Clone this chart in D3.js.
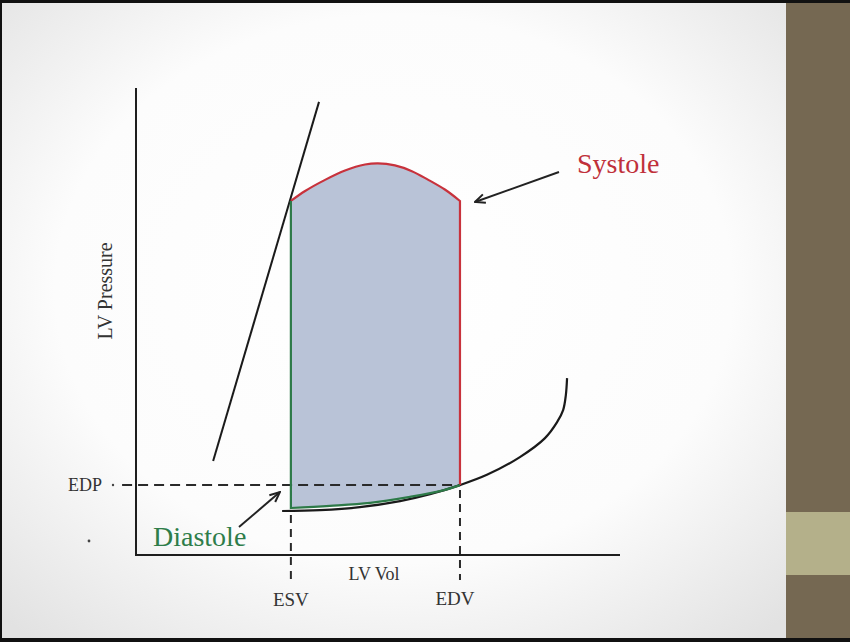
<!DOCTYPE html>
<html><head><meta charset="utf-8">
<script src="https://cdn.jsdelivr.net/npm/d3@7"></script>
<style>html,body{margin:0;padding:0;background:#000;overflow:hidden}</style>
</head><body>
<svg id="c" width="850" height="642"></svg>
<script>
// ---- data (volume in arbitrary mL-like units, pressure in mmHg-like units) ----
const ESV = 51.2, EDV = 107.1, EDP = 23.2;
const systoleVol   = [51.2, 55.9, 62.5, 69.1, 75.7, 80.0, 85.6, 91.2, 96.5, 102.1, 107.1];
const systolePres  = [117.5, 120.8, 124.5, 127.6, 129.6, 130.0, 129.3, 127.4, 124.6, 121.3, 117.5];
const diastoleVol  = [51.2, 64.1, 77.4, 90.6, 100.5, 107.1];
const diastolePres = [15.6, 16.3, 17.3, 19.3, 21.2, 23.2];
const edpvrVol     = [48.3, 60.8, 74.0, 87.3, 97.2, 107.1, 116.0, 126.9, 135.2, 139.2, 141.2, 142.1, 142.5];
const edpvrPres    = [14.6, 14.9, 15.9, 17.9, 20.2, 23.2, 26.6, 32.5, 38.8, 44.1, 48.1, 53.1, 58.7];
const espvrVol     = [25.5, 60.5];
const espvrPres    = [31.2, 150.4];
const xTickLabels  = ["ESV", "EDV"];
const yTickLabels  = ["EDP"];

const svg = d3.select("#c");
const W = 850, H = 642;

// background frame
const defs = svg.append("defs");
const rg = defs.append("radialGradient").attr("id","vig")
  .attr("cx","50%").attr("cy","45%").attr("r","72%");
rg.append("stop").attr("offset","0%").attr("stop-color","#ffffff");
rg.append("stop").attr("offset","60%").attr("stop-color","#fcfcfc");
rg.append("stop").attr("offset","100%").attr("stop-color","#e2e2e2");
svg.append("rect").attr("x",0).attr("y",0).attr("width",W).attr("height",H).attr("fill","#111");
svg.append("rect").attr("x",2).attr("y",3).attr("width",784).attr("height",635).attr("fill","url(#vig)");
svg.append("rect").attr("x",786).attr("y",3).attr("width",64).attr("height",635).attr("fill","#756852");
svg.append("rect").attr("x",786).attr("y",512).attr("width",64).attr("height",63).attr("fill","#b4b08a");

// arrow marker
defs.append("marker").attr("id","arr").attr("viewBox","0 0 12 12")
  .attr("refX",11).attr("refY",6).attr("markerWidth",12).attr("markerHeight",12)
  .attr("markerUnits","userSpaceOnUse").attr("orient","auto")
  .append("path").attr("d","M1,1.5 L11,6 L1,10.5").attr("fill","none")
  .attr("stroke","#222").attr("stroke-width",2);

// scales
const x = d3.scaleLinear().domain([0,160]).range([136,620]);
const y = d3.scaleLinear().domain([0,155]).range([555,88]);

const zip = (a,b) => a.map((v,i)=>[v,b[i]]);
const smooth = d3.line().x(d=>x(d[0])).y(d=>y(d[1])).curve(d3.curveCatmullRom.alpha(0.5));
const lineLin = d3.line().x(d=>x(d[0])).y(d=>y(d[1]));

const sys = zip(systoleVol, systolePres);
const dia = zip(diastoleVol, diastolePres);

// filled loop
const topPath = smooth(sys);
const bottomRev = smooth(dia.slice().reverse());
svg.append("path")
  .attr("d", topPath + "L" + bottomRev.slice(1) + "Z")
  .attr("fill","#b9c3d7");

// dashed guides
const g = svg.append("g");
function dl(x1,y1,x2,y2,da){
  g.append("line").attr("x1",x1).attr("y1",y1).attr("x2",x2).attr("y2",y2)
   .attr("stroke","#2a2a2a").attr("stroke-width",2).attr("stroke-dasharray",da||"9,6");
}
dl(x(-4.6), y(EDP), x(EDV), y(EDP), "10,6");
dl(x(ESV), y(13.3), x(ESV), 580, "8,6");
dl(x(EDV), 490, x(EDV), 580, "8,6");

// axes
svg.append("line").attr("x1",x(0)).attr("y1",y(0)).attr("x2",x(0)).attr("y2",y(155))
  .attr("stroke","#1e1e1e").attr("stroke-width",2);
svg.append("line").attr("x1",x(0)-1).attr("y1",y(0)).attr("x2",x(160)).attr("y2",y(0))
  .attr("stroke","#1e1e1e").attr("stroke-width",2);

// ESPVR line
svg.append("path").attr("d", lineLin(zip(espvrVol, espvrPres)))
  .attr("fill","none").attr("stroke","#1a1a1a").attr("stroke-width",2);

// EDPVR curve
svg.append("path").attr("d", smooth(zip(edpvrVol, edpvrPres)))
  .attr("fill","none").attr("stroke","#1a1a1a").attr("stroke-width",2.2);

// systole (red): top curve + right vertical
svg.append("path").attr("d", smooth(sys) + "L" + x(EDV) + "," + y(EDP))
  .attr("fill","none").attr("stroke","#c8323c").attr("stroke-width",2.2);
// diastole (green): left vertical + bottom curve
svg.append("path").attr("d", "M" + x(ESV) + "," + y(systolePres[0]) + "L" + smooth(dia).slice(1))
  .attr("fill","none").attr("stroke","#2d7a48").attr("stroke-width",2.2);

// arrows
svg.append("line").attr("x1",559).attr("y1",172).attr("x2",x(EDV)+15).attr("y2",y(systolePres[10])+1)
  .attr("stroke","#222").attr("stroke-width",2).attr("marker-end","url(#arr)");
svg.append("line").attr("x1",239).attr("y1",527).attr("x2",x(ESV)-11).attr("y2",y(EDP)+7)
  .attr("stroke","#222").attr("stroke-width",2).attr("marker-end","url(#arr)");

// texts
const font = "'Liberation Serif', 'DejaVu Serif', serif";
function t(txt,xx,yy,size,color,anchor){
  return svg.append("text").attr("x",xx).attr("y",yy).attr("font-family",font)
   .attr("font-size",size).attr("fill",color).attr("text-anchor",anchor||"middle").text(txt);
}
t(xTickLabels[0], x(ESV), 606, 19, "#333");
t(xTickLabels[1], x(EDV)-5, 605, 19, "#333");
t("LV Vol", 374, 580, 18, "#333");
t(yTickLabels[0], 102, 491, 18, "#333", "end");
svg.append("circle").attr("cx",113).attr("cy",485).attr("r",1.2).attr("fill","#444");
svg.append("circle").attr("cx",89).attr("cy",541).attr("r",1.4).attr("fill","#444");
svg.append("text").attr("transform","translate(112,291) rotate(-90)")
  .attr("font-family",font).attr("font-size",20).attr("fill","#333")
  .attr("text-anchor","middle").text("LV Pressure");
t("Systole", 577, 173, 28, "#c0303a", "start");
t("Diastole", 153, 546, 28, "#2e7d4a", "start");
</script>
</body></html>
